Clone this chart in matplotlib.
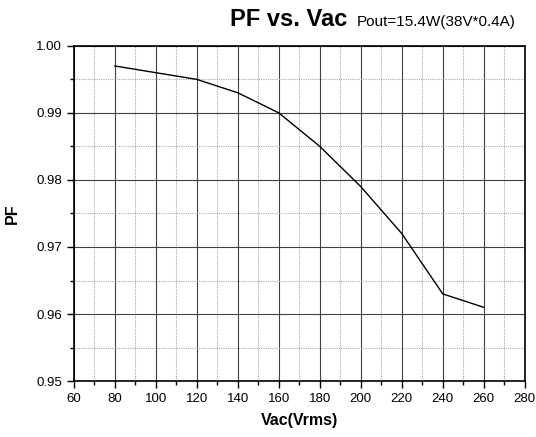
import matplotlib
matplotlib.use("Agg")
import matplotlib.pyplot as plt
from matplotlib.ticker import MultipleLocator

vac = [80, 100, 120, 140, 160, 180, 200, 220, 240, 260]
pf = [0.997, 0.996, 0.995, 0.993, 0.990, 0.985, 0.979, 0.972, 0.963, 0.961]

plt.rcParams['font.family'] = ['Liberation Sans', 'DejaVu Sans']

fig = plt.figure(figsize=(5.36, 4.37), dpi=100)
ax = fig.add_axes([0.138, 0.128, 0.841, 0.767])
ax.plot(vac, pf, color='black', lw=1.0, zorder=3)
ax.set_xlim(60, 280)
ax.set_ylim(0.95, 1.00)
ax.xaxis.set_major_locator(MultipleLocator(20))
ax.xaxis.set_minor_locator(MultipleLocator(10))
ax.yaxis.set_major_locator(MultipleLocator(0.01))
ax.yaxis.set_minor_locator(MultipleLocator(0.005))
ax.yaxis.set_major_formatter(matplotlib.ticker.FormatStrFormatter('%.2f'))
ax.grid(which='major', color='#404040', lw=0.8, ls='-')
ax.grid(which='minor', color='#aaaaaa', lw=0.8, ls=(0, (1, 1)))
ax.set_axisbelow(True)
for s in ax.spines.values():
    s.set_linewidth(1.2)
ax.tick_params(which='both', direction='out', top=False, right=False, labelsize=9.5, width=1.0)
ax.tick_params(which='major', length=5)
ax.tick_params(which='minor', length=3)
ax.set_xlabel('Vac(Vrms)', fontsize=11.5, fontweight='bold', labelpad=6)
ax.set_ylabel('PF', fontsize=11.5, fontweight='bold', labelpad=12)
fig.text(0.43, 0.94, 'PF vs. Vac', fontsize=17, fontweight='bold', ha='left', va='baseline')
fig.text(0.666, 0.94, 'Pout=15.4W(38V*0.4A)', fontsize=11, ha='left', va='baseline')
fig.savefig('out.png', dpi=100)
